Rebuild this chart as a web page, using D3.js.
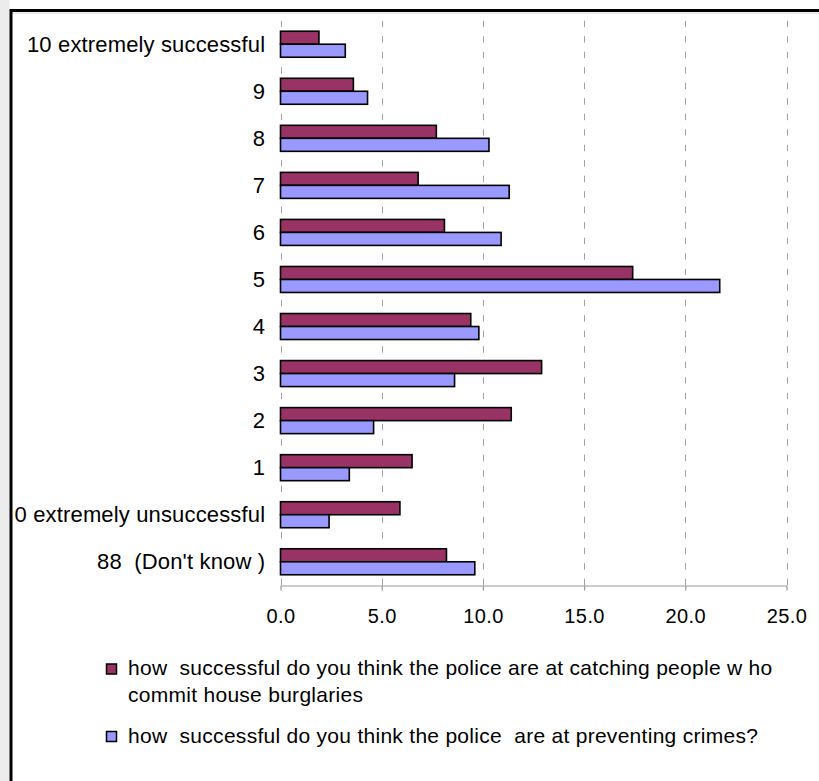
<!DOCTYPE html>
<html>
<head>
<meta charset="utf-8">
<script src="https://cdn.jsdelivr.net/npm/d3@7"></script>
<style>
  html, body { margin: 0; padding: 0; background: #fff; }
  svg { display: block; }
  text { font-family: "Liberation Sans", Arial, sans-serif; fill: #000; white-space: pre; }
</style>
</head>
<body>
<svg id="chart" width="819" height="781"></svg>
<script>
// Survey response categories, top to bottom
const categories = [
  "10 extremely successful", "9", "8", "7", "6", "5", "4", "3", "2", "1",
  "0 extremely unsuccessful", "88  (Don't know )"
];
// Percent of respondents: success at catching house burglars
const catching = [1.9, 3.6, 7.7, 6.8, 8.1, 17.4, 9.4, 12.9, 11.4, 6.5, 5.9, 8.2];
// Percent of respondents: success at preventing crimes
const preventing = [3.2, 4.3, 10.3, 11.3, 10.9, 21.7, 9.8, 8.6, 4.6, 3.4, 2.4, 9.6];
// Value axis ticks
const xTicks = [0, 5, 10, 15, 20, 25];
// Legend labels (one entry per series, split into display lines)
const seriesKeys = ["catching", "preventing"];
const seriesLabels = [
  ["how  successful do you think the police are at catching people w ho", "commit house burglaries"],
  ["how  successful do you think the police  are at preventing crimes?"]
];
const seriesColors = ["#993366", "#9999FF"];

const svg = d3.select("#chart");

// Page background and frame
svg.append("rect").attr("x", 0).attr("y", 0).attr("width", 819).attr("height", 781).attr("fill", "#fff");
svg.append("rect").attr("x", 0).attr("y", 0).attr("width", 9.5).attr("height", 781).attr("fill", "#ececec");
svg.append("line").attr("x1", 12).attr("x2", 819).attr("y1", 13).attr("y2", 13)
  .attr("stroke", "#d8d8d8").attr("stroke-width", 1);
svg.append("path").attr("d", "M11,781 V10.5 H819")
  .attr("fill", "none").attr("stroke", "#000").attr("stroke-width", 3);

const x = d3.scaleLinear().domain([0, 25]).range([280.5, 786.5]);
const y = d3.scaleBand().domain(categories).range([20.7, 585.3]);
const ySub = d3.scaleBand().domain(seriesKeys).range([0, y.bandwidth()])
  .paddingInner(0).paddingOuter(0.81);

// Dashed vertical gridlines
svg.append("g").selectAll("line").data(xTicks).join("line")
  .attr("x1", d => Math.round(x(d)) + 0.5).attr("x2", d => Math.round(x(d)) + 0.5)
  .attr("y1", 20.7).attr("y2", 585)
  .attr("stroke", "#a0a0a0").attr("stroke-width", 1)
  .attr("stroke-dasharray", "6.5,9");

// Bars
const rows = categories.map((c, i) => ({ cat: c, catching: catching[i], preventing: preventing[i] }));
const groups = svg.append("g").selectAll("g").data(rows).join("g")
  .attr("transform", d => `translate(0,${y(d.cat)})`);
groups.selectAll("rect")
  .data(d => seriesKeys.map((k, j) => ({ key: k, value: d[k], color: seriesColors[j] })))
  .join("rect")
  .attr("x", x(0))
  .attr("y", d => ySub(d.key))
  .attr("width", d => x(d.value) - x(0))
  .attr("height", ySub.bandwidth())
  .attr("fill", d => d.color)
  .attr("stroke", "#000")
  .attr("stroke-width", 1.6);

// Category labels
svg.append("g").selectAll("text").data(categories).join("text")
  .attr("x", 265.2)
  .attr("y", d => y(d) + y.bandwidth() / 2 + 7.5)
  .attr("text-anchor", "end")
  .attr("font-size", 22)
  .attr("letter-spacing", 0.15)
  .text(d => d);

// Value axis
const axis = svg.append("g")
  .attr("transform", "translate(0,585.5)")
  .call(d3.axisBottom(x).tickValues(xTicks).tickFormat(d3.format(".1f"))
    .tickSizeInner(5).tickSizeOuter(0));
axis.select(".domain").attr("stroke", "#999").attr("stroke-width", 1.2);
axis.selectAll(".tick line").attr("stroke", "#999").attr("stroke-width", 1.2);
axis.selectAll(".tick text")
  .attr("y", 37.2).attr("dy", 0)
  .attr("font-size", 20)
  .attr("letter-spacing", 0.4)
  .attr("font-family", "Liberation Sans, Arial, sans-serif")
  .attr("fill", "#000");

// Legend
const legendBaselines = [[675, 702], [742.5]];
const legend = svg.append("g").selectAll("g").data(seriesKeys).join("g");
legend.append("rect")
  .attr("x", 106.5).attr("y", (d, i) => legendBaselines[i][0] - 11)
  .attr("width", 10).attr("height", 10)
  .attr("fill", (d, i) => seriesColors[i])
  .attr("stroke", "#000").attr("stroke-width", 1.5);
legend.each(function (d, i) {
  d3.select(this).selectAll("text").data(seriesLabels[i]).join("text")
    .attr("x", 128)
    .attr("y", (t, k) => legendBaselines[i][k])
    .attr("font-size", 21)
    .attr("letter-spacing", 0.28)
    .text(t => t);
});
</script>
</body>
</html>
